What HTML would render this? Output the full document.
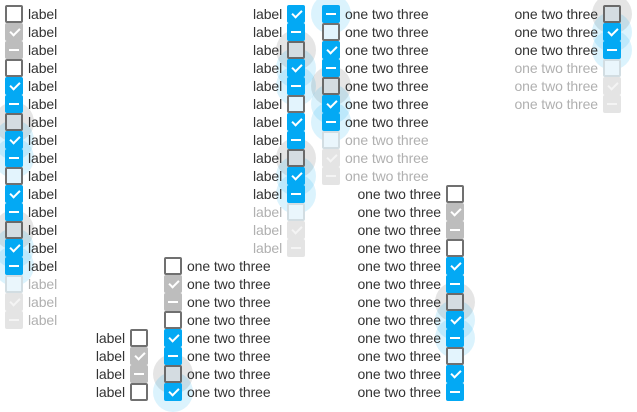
<!DOCTYPE html>
<html><head><meta charset="utf-8"><style>
html{background:#fff}
html,body{margin:0;padding:0;width:637px;height:412px;overflow:hidden}
body{position:relative;font-family:"Liberation Sans",sans-serif;font-size:14px;letter-spacing:-0.1px;color:#333}
.col{position:absolute}
.row{display:flex;align-items:center;height:18px;gap:5px;white-space:nowrap;line-height:18px}
.row span.g{color:#b0b0b0}
.lw span{display:block;text-align:right;overflow:visible}
.b{position:relative;display:block;width:18px;height:18px;box-sizing:border-box;border-radius:2px;flex:none}
.u{border:2px solid #707070;background:#fff}
.f{border:2px solid #6a6a6a;background:#d4dce1}
.l{border:2px solid #707070;background:#e3f4fd}
.eu{border:2px solid #d2dde2;background:#eaf6fc}
.c,.i{background:#03a9f4}
.dc,.di{background:#bdbdbd}
.ec,.ei{background:#e4e4e4}
.c::after,.dc::after,.ec::after{content:"";position:absolute;left:6.5px;top:3px;width:4px;height:8px;border:solid #fff;border-width:0 2px 2px 0;transform:rotate(45deg)}
.ec::after{border-color:#f4f4f4}
.i::after,.di::after,.ei::after{content:"";position:absolute;left:4px;top:8px;width:10px;height:2px;background:#fff}
.ei::after{background:#f4f4f4}
.hg::before,.hb::before{content:"";position:absolute;left:-11px;top:-11px;width:40px;height:40px;border-radius:50%;z-index:-1}
.hg::before{left:-13px;top:-13px;background:rgba(0,0,0,.1)}
.hb::before{background:rgba(3,169,244,.14)}
</style></head><body>

<div class="col" style="left:5px;top:5px">
<div class="row"><i class="b u"></i><span>label</span></div>
<div class="row"><i class="b dc"></i><span>label</span></div>
<div class="row"><i class="b di"></i><span>label</span></div>
<div class="row"><i class="b u"></i><span>label</span></div>
<div class="row"><i class="b c"></i><span>label</span></div>
<div class="row"><i class="b i"></i><span>label</span></div>
<div class="row"><i class="b f hg"></i><span>label</span></div>
<div class="row"><i class="b c hb"></i><span>label</span></div>
<div class="row"><i class="b i hb"></i><span>label</span></div>
<div class="row"><i class="b l"></i><span>label</span></div>
<div class="row"><i class="b c"></i><span>label</span></div>
<div class="row"><i class="b i"></i><span>label</span></div>
<div class="row"><i class="b f hg"></i><span>label</span></div>
<div class="row"><i class="b c hb"></i><span>label</span></div>
<div class="row"><i class="b i hb"></i><span>label</span></div>
<div class="row"><i class="b eu"></i><span class="g">label</span></div>
<div class="row"><i class="b ec"></i><span class="g">label</span></div>
<div class="row"><i class="b ei"></i><span class="g">label</span></div>
</div>

<div class="col lw" style="left:253px;top:5px">
<style>.w29 span{width:29px}.w85 span{width:85px}.w30 span{width:30px}</style>
</div>

<div class="col lw w29" style="left:253px;top:5px">
<div class="row"><span>label</span><i class="b c"></i></div>
<div class="row"><span>label</span><i class="b i"></i></div>
<div class="row"><span>label</span><i class="b f hg"></i></div>
<div class="row"><span>label</span><i class="b c hb"></i></div>
<div class="row"><span>label</span><i class="b i hb"></i></div>
<div class="row"><span>label</span><i class="b l"></i></div>
<div class="row"><span>label</span><i class="b c"></i></div>
<div class="row"><span>label</span><i class="b i"></i></div>
<div class="row"><span>label</span><i class="b f hg"></i></div>
<div class="row"><span>label</span><i class="b c hb"></i></div>
<div class="row"><span>label</span><i class="b i hb"></i></div>
<div class="row"><span class="g">label</span><i class="b eu"></i></div>
<div class="row"><span class="g">label</span><i class="b ec"></i></div>
<div class="row"><span class="g">label</span><i class="b ei"></i></div>
</div>

<div class="col" style="left:322px;top:5px">
<div class="row"><i class="b i hb"></i><span>one two three</span></div>
<div class="row"><i class="b l"></i><span>one two three</span></div>
<div class="row"><i class="b c"></i><span>one two three</span></div>
<div class="row"><i class="b i"></i><span>one two three</span></div>
<div class="row"><i class="b f hg"></i><span>one two three</span></div>
<div class="row"><i class="b c hb"></i><span>one two three</span></div>
<div class="row"><i class="b i hb"></i><span>one two three</span></div>
<div class="row"><i class="b eu"></i><span class="g">one two three</span></div>
<div class="row"><i class="b ec"></i><span class="g">one two three</span></div>
<div class="row"><i class="b ei"></i><span class="g">one two three</span></div>
</div>

<div class="col lw w85" style="left:513px;top:5px">
<div class="row"><span>one two three</span><i class="b f hg"></i></div>
<div class="row"><span>one two three</span><i class="b c hb"></i></div>
<div class="row"><span>one two three</span><i class="b i hb"></i></div>
<div class="row"><span class="g">one two three</span><i class="b eu"></i></div>
<div class="row"><span class="g">one two three</span><i class="b ec"></i></div>
<div class="row"><span class="g">one two three</span><i class="b ei"></i></div>
</div>

<div class="col lw w85" style="left:356px;top:185px">
<div class="row"><span>one two three</span><i class="b u"></i></div>
<div class="row"><span>one two three</span><i class="b dc"></i></div>
<div class="row"><span>one two three</span><i class="b di"></i></div>
<div class="row"><span>one two three</span><i class="b u"></i></div>
<div class="row"><span>one two three</span><i class="b c"></i></div>
<div class="row"><span>one two three</span><i class="b i"></i></div>
<div class="row"><span>one two three</span><i class="b f hg"></i></div>
<div class="row"><span>one two three</span><i class="b c hb"></i></div>
<div class="row"><span>one two three</span><i class="b i hb"></i></div>
<div class="row"><span>one two three</span><i class="b l"></i></div>
<div class="row"><span>one two three</span><i class="b c"></i></div>
<div class="row"><span>one two three</span><i class="b i"></i></div>
</div>

<div class="col" style="left:164px;top:257px">
<div class="row"><i class="b u"></i><span>one two three</span></div>
<div class="row"><i class="b dc"></i><span>one two three</span></div>
<div class="row"><i class="b di"></i><span>one two three</span></div>
<div class="row"><i class="b u"></i><span>one two three</span></div>
<div class="row"><i class="b c"></i><span>one two three</span></div>
<div class="row"><i class="b i"></i><span>one two three</span></div>
<div class="row"><i class="b f hg"></i><span>one two three</span></div>
<div class="row"><i class="b c hb"></i><span>one two three</span></div>
</div>

<div class="col lw w30" style="left:95px;top:329px">
<div class="row"><span>label</span><i class="b u"></i></div>
<div class="row"><span>label</span><i class="b dc"></i></div>
<div class="row"><span>label</span><i class="b di"></i></div>
<div class="row"><span>label</span><i class="b u"></i></div>
</div>

</body></html>
